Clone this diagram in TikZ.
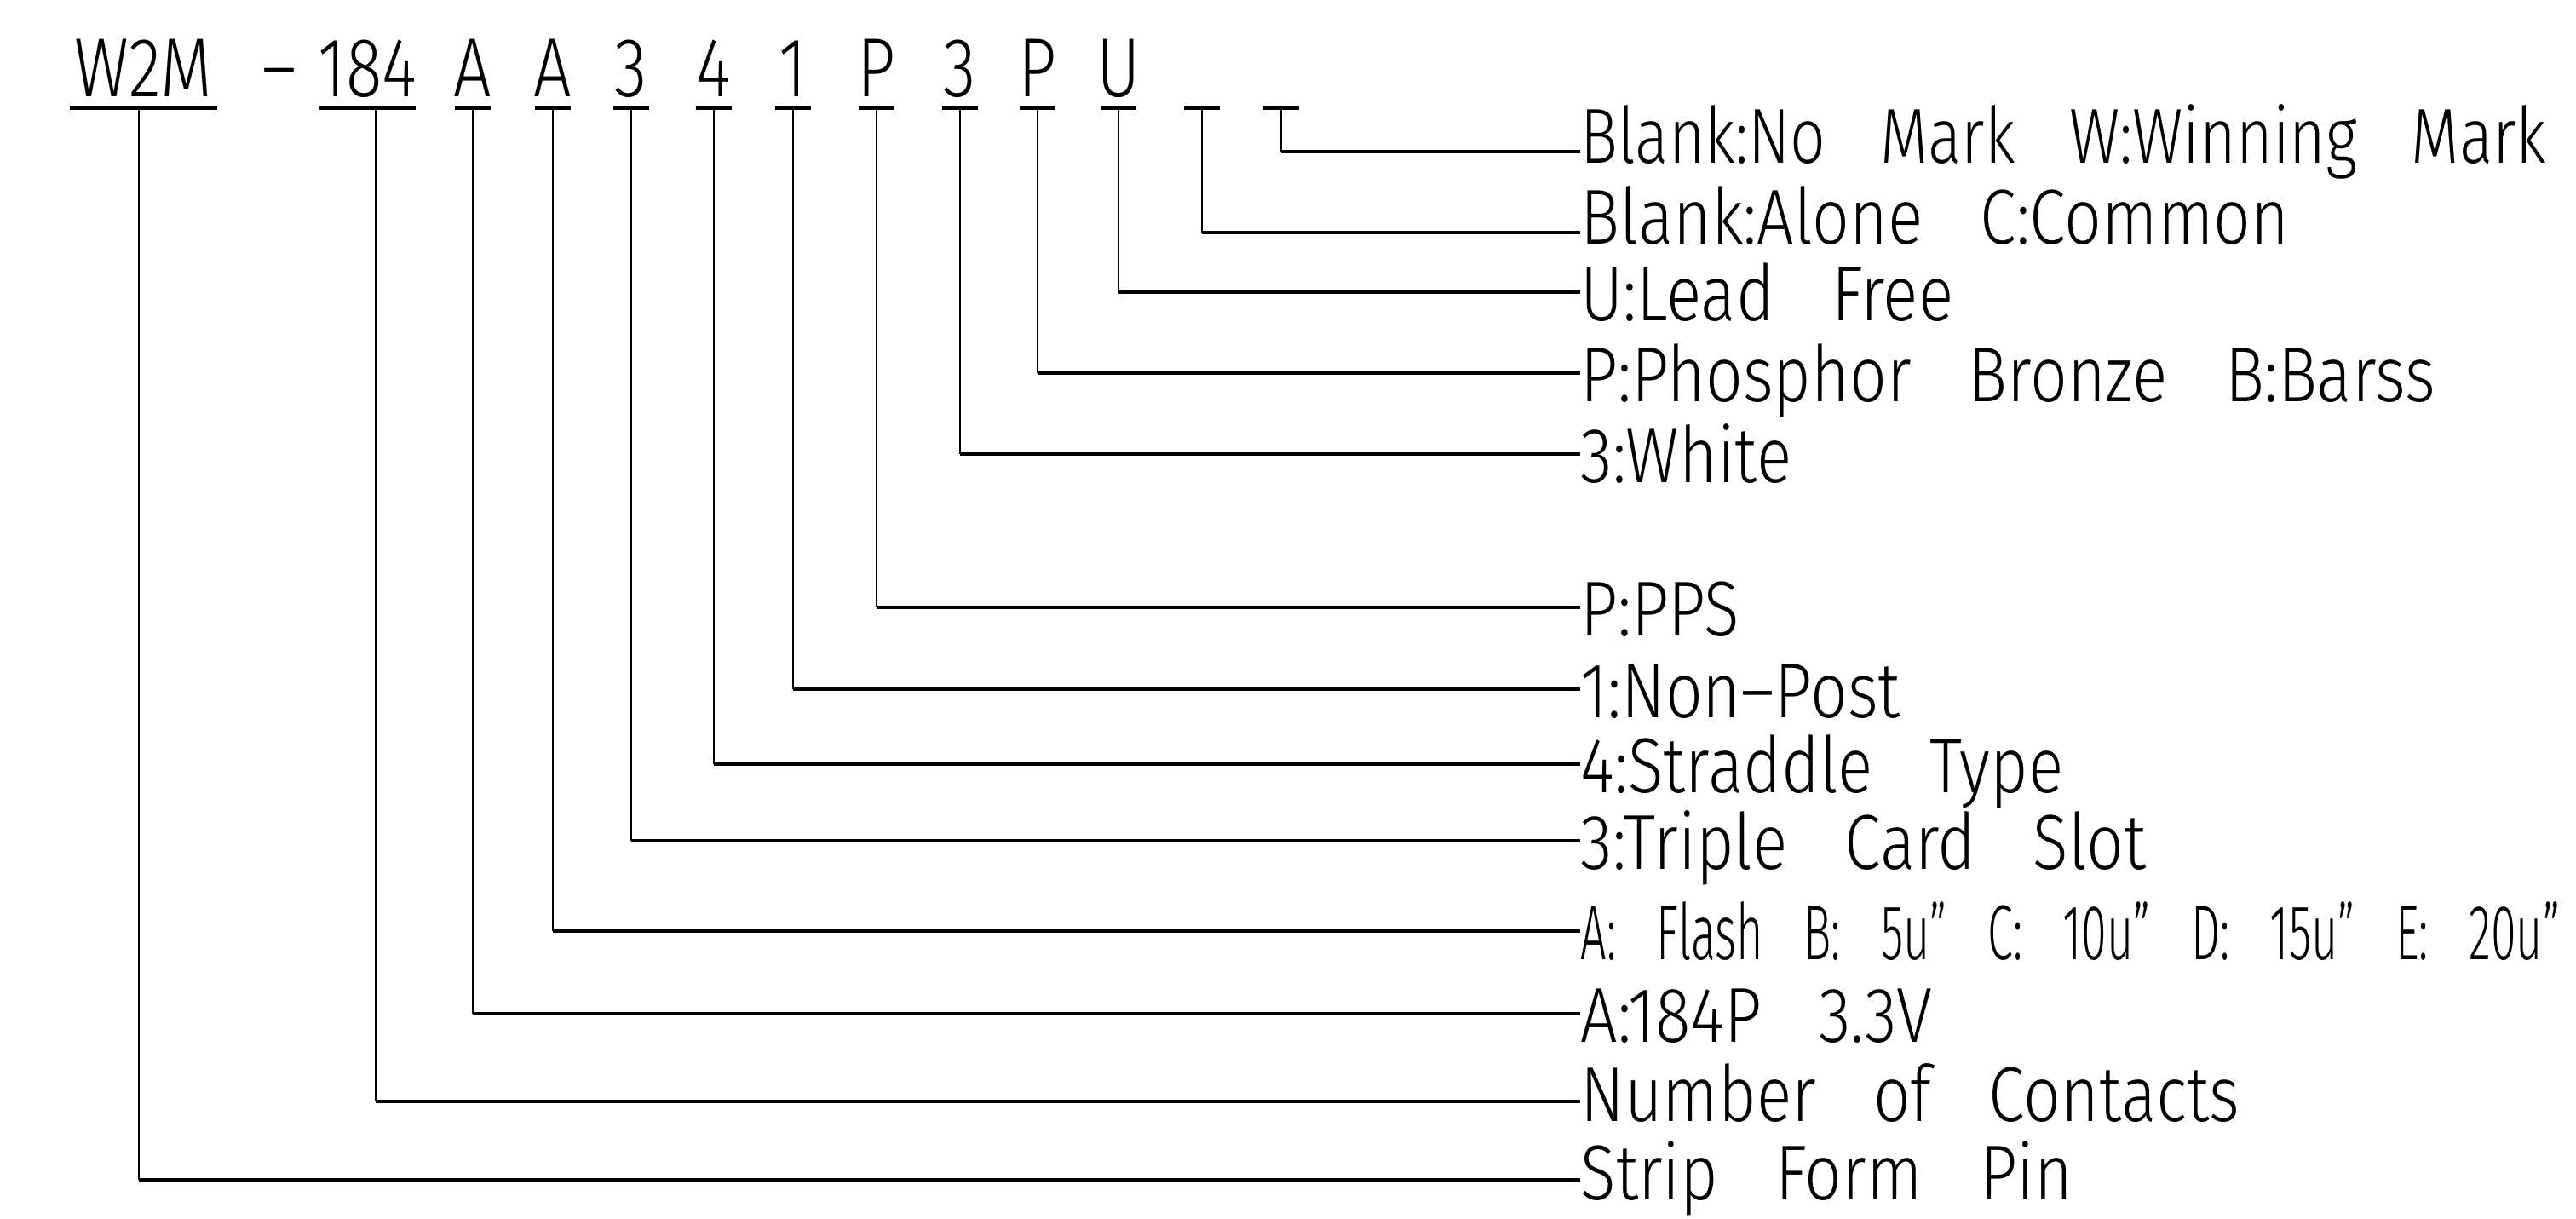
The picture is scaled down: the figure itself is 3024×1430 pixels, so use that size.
\documentclass[tikz,border=0pt]{standalone}
\usepackage{fontspec}
\IfFontExistsTF{Fira Sans Light}{\def\cadname{Fira Sans Light}}{\def\cadname{Liberation Sans}}
\newfontfamily\codefont{\cadname}[FakeStretch=0.8]
\newfontfamily\labfont{\cadname}[FakeStretch=0.84,WordSpace=3.14]
\newfontfamily\markfont{\cadname}[FakeStretch=0.8,WordSpace=3.11]
\newfontfamily\narrowfont{\cadname}[FakeStretch=0.59,WordSpace=3.15]
\tikzset{
  code/.style={font=\codefont\fontsize{28}{28}\selectfont, inner sep=0pt, anchor=base},
  lab/.style={font=\labfont\fontsize{26}{26}\selectfont, inner sep=0pt, anchor=west, text height=6.6mm, text depth=0pt},
  labhi/.style={lab, text depth=4mm},
  labup/.style={lab, text depth=2mm},
  labmark/.style={labhi, font=\markfont\fontsize{26}{26}\selectfont},
  labn/.style={lab, font=\narrowfont\fontsize{26}{26}\selectfont},
  bar/.style={line width=1.2pt},
  lead/.style={line width=0.8pt},
  leadh/.style={line width=1.1pt}
}
\begin{document}
\begin{tikzpicture}[x=0.01cm, y=-0.01cm, line join=miter]
  \useasboundingbox (0,0) rectangle (3024,1430);
  \node[code] (dash) at (328,113) {–};
  % code letter / lead x / bar ends / label y / style / label
  \foreach \t/\x/\l/\r/\y/\s/\txt [count=\i] in {
    W2M/163/82/255/1385/labup/Strip Form Pin,
    184/441/375/488/1293/labup/Number of Contacts,
    A/555/534/576/1190/lab/A:184P 3.3V,
    A/649/628/670/1093/labn/A: Flash B: 5u” C: 10u” D: 15u” E: 20u”,
    3/741/720/762/987/lab/3:Triple Card Slot,
    4/838/817/859/897/lab/4:Straddle Type,
    1/931/910/952/809/lab/1:Non–Post,
    P/1029/1008/1050/713/lab/P:PPS,
    3/1127/1106/1148/533/lab/3:White,
    P/1218/1197/1239/438/lab/P:Phosphor Bronze B:Barss,
    U/1313/1292/1334/343/lab/U:Lead Free,
    /1411/1390/1432/273/labhi/Blank:Alone C:Common,
    /1504/1483/1525/178/labmark/Blank:No Mark W:Winning Mark}{
    \node[code] (c\i) at ({(\l+\r)/2},113) {\t};
    \coordinate (b\i) at (\x,127);
    \draw[bar] (\l,127) -- (\r,127);
    \node[\s] (l\i) at (1855,\y) {\txt};
    \draw[lead] (b\i) -- (b\i |- l\i.west);
    \draw[leadh] (b\i |- l\i.west) -- (l\i.west);
  }
\end{tikzpicture}
\end{document}
